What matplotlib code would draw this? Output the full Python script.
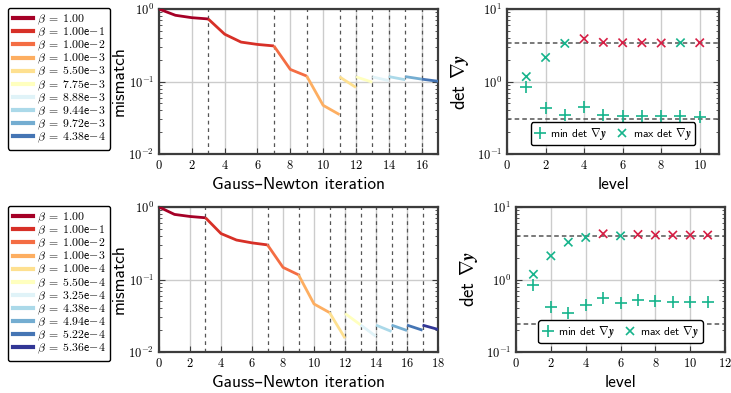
import numpy as np
import matplotlib
matplotlib.use('Agg')
import matplotlib.pyplot as plt
from matplotlib.lines import Line2D

plt.rcParams['font.family'] = ['cmr10', 'DejaVu Sans']
plt.rcParams['mathtext.fontset'] = 'cm'
plt.rcParams['axes.formatter.use_mathtext'] = True
plt.rcParams['axes.unicode_minus'] = False

SANS = ['cmss10', 'DejaVu Sans']

# ---- data: top row ----
beta_top = ['1.00', '1.00e-1', '1.00e-2', '1.00e-3', '5.50e-3', '7.75e-3',
            '8.88e-3', '9.44e-3', '9.72e-3', '4.38e-4']
start_top = [0, 3, 7, 9, 11, 12, 13, 14, 15, 16]
mismatch_top = [
    [1.0, 0.82, 0.76, 0.73],
    [0.73, 0.45, 0.35, 0.325, 0.31],
    [0.31, 0.147, 0.119],
    [0.119, 0.047, 0.035],
    [0.116, 0.083],
    [0.116, 0.098],
    [0.116, 0.103],
    [0.117, 0.106],
    [0.117, 0.108],
    [0.108, 0.101],
]
levels_top = [1, 2, 3, 4, 5, 6, 7, 8, 9, 10]
min_top = [0.83, 0.43, 0.35, 0.44, 0.35, 0.34, 0.335, 0.33, 0.33, 0.32]
max_top = [1.17, 2.15, 3.36, 3.9, 3.47, 3.43, 3.43, 3.4, 3.43, 3.43]
max_top_red = [0, 0, 0, 1, 1, 1, 1, 1, 0, 1]
bounds_top = [3.4, 0.30]

# ---- data: bottom row ----
beta_bot = ['1.00', '1.00e-1', '1.00e-2', '1.00e-3', '1.00e-4', '5.50e-4',
            '3.25e-4', '4.38e-4', '4.94e-4', '5.22e-4', '5.36e-4']
start_bot = [0, 3, 7, 9, 11, 12, 13, 14, 15, 16, 17]
mismatch_bot = [
    [1.0, 0.79, 0.74, 0.71],
    [0.71, 0.43, 0.35, 0.32, 0.30],
    [0.30, 0.147, 0.116],
    [0.116, 0.046, 0.035],
    [0.035, 0.0155],
    [0.034, 0.0237],
    [0.0237, 0.0164],
    [0.0235, 0.0192],
    [0.0235, 0.0198],
    [0.0235, 0.020],
    [0.0235, 0.0205],
]
levels_bot = [1, 2, 3, 4, 5, 6, 7, 8, 9, 10, 11]
min_bot = [0.83, 0.42, 0.35, 0.44, 0.55, 0.48, 0.52, 0.50, 0.49, 0.49, 0.49]
max_bot = [1.18, 2.12, 3.27, 3.8, 4.27, 4.0, 4.18, 4.1, 4.1, 4.1, 4.1]
max_bot_red = [0, 0, 0, 0, 1, 0, 1, 1, 1, 1, 1]
bounds_bot = [4.0, 0.247]

rdylbu = ['#a50026', '#d73027', '#f46d43', '#fdae61', '#fee090', '#ffffbf',
          '#e0f3f8', '#abd9e9', '#74add1', '#4575b4', '#313695']
GREEN = '#17b48c'
RED = '#d61f45'
SPINE = '#3c3c3c'


def beta_label(b):
    if 'e-' in b:
        m, e = b.split('e-')
        return r'$\beta\;=\;\mathsf{%se}{-}\mathsf{%s}$' % (m, e)
    return r'$\beta\;=\;\mathsf{%s}$' % b


def style_axes(ax):
    for s in ax.spines.values():
        s.set_color(SPINE)
        s.set_linewidth(1.6)
    ax.grid(True, which='major', color='#cccccc', lw=1.0, zorder=0)
    ax.tick_params(which='both', direction='in', right=True, labelsize=9,
                   color=SPINE)
    ax.tick_params(which='major', length=4, width=0.8)
    ax.tick_params(which='minor', length=2.5, width=0.6)
    ax.set_axisbelow(True)


def mismatch_panel(ax, starts, vals, betas, xmax, leg_top):
    for x0 in starts[1:]:
        ax.axvline(x0, color='#555555', ls=(0, (3, 3)), lw=0.9, zorder=1)
    handles = []
    for i, (x0, v) in enumerate(zip(starts, vals)):
        xs = np.arange(x0, x0 + len(v))
        ax.plot(xs, v, color=rdylbu[i], lw=2.0, zorder=3, solid_capstyle='butt')
        handles.append(Line2D([], [], color=rdylbu[i], lw=3))
    ax.set_yscale('log')
    ax.set_ylim(1e-2, 1)
    ax.set_xlim(0, xmax)
    ax.set_xticks(np.arange(0, xmax + 1, 2))
    style_axes(ax)
    ax.set_ylabel('mismatch', fontfamily=SANS, fontsize=12.5, labelpad=1)
    ax.set_xlabel('Gauss–Newton iteration', fontfamily=SANS, fontsize=12.5)
    fig.legend(handles, [beta_label(b) for b in betas], loc='upper left',
               bbox_to_anchor=(0.011, leg_top), prop={'family': SANS, 'size': 8.5},
               handlelength=1.7, labelspacing=-0.1, borderpad=0.4,
               handletextpad=0.35, borderaxespad=0, fancybox=True,
               edgecolor='black', framealpha=1)


def det_panel(ax, levels, mins, maxs, red, bounds, xmax):
    for b in bounds:
        ax.axhline(b, color='#555555', ls=(0, (3, 2)), lw=1.1, zorder=2)
    ax.plot(levels, mins, ls='none', marker='+', ms=8, mew=1.2, color=GREEN,
            zorder=3)
    cols = [RED if r else GREEN for r in red]
    ax.scatter(levels, maxs, marker='x', s=36, linewidths=1.2, c=cols, zorder=3)
    ax.set_yscale('log')
    ax.set_ylim(0.1, 10)
    ax.set_xlim(0, xmax)
    ax.set_xticks(np.arange(0, xmax + 1, 2))
    style_axes(ax)
    ax.set_ylabel(r'det $\nabla\boldsymbol{y}$', fontfamily=SANS, fontsize=13.5)
    ax.set_xlabel('level', fontfamily=SANS, fontsize=12.5)
    h = [Line2D([], [], ls='none', marker='+', ms=8, mew=1.2, color=GREEN),
         Line2D([], [], ls='none', marker='x', ms=6, mew=1.2, color=GREEN)]
    ax.legend(h, [r'min det $\nabla\boldsymbol{y}$', r'max det $\nabla\boldsymbol{y}$'],
              loc='lower center', bbox_to_anchor=(0.5, 0.02), ncol=2,
              prop={'family': SANS, 'size': 8.3}, handlelength=1.0,
              handletextpad=0.4, columnspacing=0.8, borderpad=0.3,
              fancybox=True, edgecolor='black', framealpha=1)


fig = plt.figure(figsize=(7.31, 3.93), dpi=100)
ax1 = fig.add_axes([0.2175, 0.608, 0.3817, 0.369])
ax2 = fig.add_axes([0.6936, 0.608, 0.290, 0.369])
ax3 = fig.add_axes([0.2175, 0.1043, 0.3817, 0.369])
ax4 = fig.add_axes([0.7059, 0.1043, 0.286, 0.369])

mismatch_panel(ax1, start_top, mismatch_top, beta_top, 17, 0.980)
det_panel(ax2, levels_top, min_top, max_top, max_top_red, bounds_top, 11)
mismatch_panel(ax3, start_bot, mismatch_bot, beta_bot, 18, 0.476)
det_panel(ax4, levels_bot, min_bot, max_bot, max_bot_red, bounds_bot, 12)

fig.savefig('out.png', dpi=100)
